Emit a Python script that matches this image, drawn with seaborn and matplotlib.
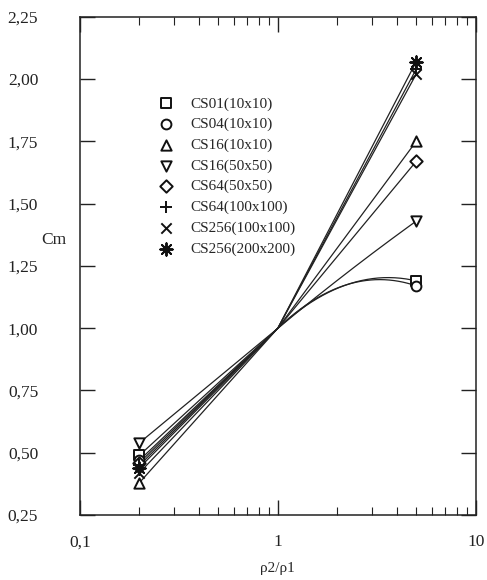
import numpy as np
import matplotlib.pyplot as plt
import seaborn as sns
from matplotlib.ticker import FuncFormatter, LogLocator, NullFormatter, FixedLocator

# density ratio rho2/rho1 at which Cm was computed
ratio = [0.2, 1.0, 5.0]

labels = ['CS01(10x10)', 'CS04(10x10)', 'CS16(10x10)', 'CS16(50x50)',
          'CS64(50x50)', 'CS64(100x100)', 'CS256(100x100)', 'CS256(200x200)']
cs01_10 = [0.49, 1.00, 1.19]
cs04_10 = [0.47, 1.00, 1.17]
cs16_10 = [0.38, 1.00, 1.75]
cs16_50 = [0.54, 1.00, 1.43]
cs64_50 = [0.46, 1.00, 1.67]
cs64_100 = [0.45, 1.00, 2.04]
cs256_100 = [0.42, 1.00, 2.02]
cs256_200 = [0.44, 1.00, 2.07]
series = [cs01_10, cs04_10, cs16_10, cs16_50, cs64_50, cs64_100, cs256_100, cs256_200]

markers = ['s', 'o', '^', 'v', 'D', '+', 'x', (8, 2, 0)]
sizes = [45, 50, 55, 55, 40, 80, 55, 80]

sns.set_style('ticks')
plt.rcParams['font.family'] = ['Liberation Serif', 'DejaVu Serif']

fig, ax = plt.subplots(figsize=(4.87, 5.8), dpi=100)
fig.subplots_adjust(left=0.164, right=0.977, top=0.971, bottom=0.112)


def curve(ys):
    # straight line below 1, then a bend above 1 (in log x) like the original plot
    u = np.log10(ratio)
    sl = (ys[1] - ys[0]) / (u[1] - u[0])
    h = u[2] - u[1]
    sc = (ys[2] - ys[1]) / h
    s = max(sl, sc)
    a = (ys[2] - ys[1] - s * h) / h ** 2
    g1 = np.linspace(u[0], u[1], 50)
    g2 = np.linspace(u[1], u[2], 150)
    yy = np.concatenate([ys[0] + sl * (g1 - u[0]), ys[1] + s * (g2 - u[1]) + a * (g2 - u[1]) ** 2])
    return 10 ** np.concatenate([g1, g2]), yy


for ys in series:
    gx, gy = curve(ys)
    sns.lineplot(x=gx, y=gy, color='#222222', lw=0.9, ax=ax, legend=False, sort=False)

for ys, lab, m, s in zip(series, labels, markers, sizes):
    px, py = ratio[::2], ys[::2]
    if m in ['+', 'x'] or isinstance(m, tuple):
        sns.scatterplot(x=px, y=py, marker=m, s=s, color='#111111',
                        linewidth=1.4, ax=ax, label=lab, zorder=3)
    else:
        sns.scatterplot(x=px, y=py, marker=m, s=s, facecolor='white',
                        edgecolor='#111111', linewidth=1.4, ax=ax, label=lab, zorder=3)

ax.set_xscale('log')
ax.set_xlim(0.1, 10)
ax.set_ylim(0.25, 2.25)
ax.yaxis.set_major_locator(FixedLocator(np.arange(0.25, 2.26, 0.25)))
ax.yaxis.set_major_formatter(FuncFormatter(lambda v, p: f'{v:.2f}'.replace('.', ',')))
ax.xaxis.set_major_locator(FixedLocator([0.1, 1, 10]))
ax.xaxis.set_major_formatter(FuncFormatter(lambda v, p: f'{v:g}'.replace('.', ',')))
ax.xaxis.set_minor_locator(LogLocator(base=10, subs=np.arange(2, 10)))
ax.xaxis.set_minor_formatter(NullFormatter())

ax.tick_params(axis='both', which='both', direction='in', top=True, right=True,
               colors='#222222', labelcolor='#222222')
ax.tick_params(axis='y', which='major', length=11, width=1, pad=30, labelsize=12.5)
ax.tick_params(axis='x', which='major', length=11, width=1, pad=14, labelsize=12.5)
ax.tick_params(axis='x', which='minor', length=6, width=0.8)
for sp in ax.spines.values():
    sp.set_color('#222222')
    sp.set_linewidth(1.1)

ax.set_xlabel('ρ2/ρ1', fontsize=11, labelpad=8)
ax.set_ylabel('')
fig.text(0.085, 1 - 240 / 580, 'Cm', fontsize=12.5, ha='left', va='center')

ax.legend(loc='upper left', bbox_to_anchor=(0.182, 0.852), frameon=False,
          fontsize=11, handletextpad=1.1, labelspacing=0.45, handlelength=1.0,
          borderaxespad=0)

fig.savefig('out.png', dpi=100)
